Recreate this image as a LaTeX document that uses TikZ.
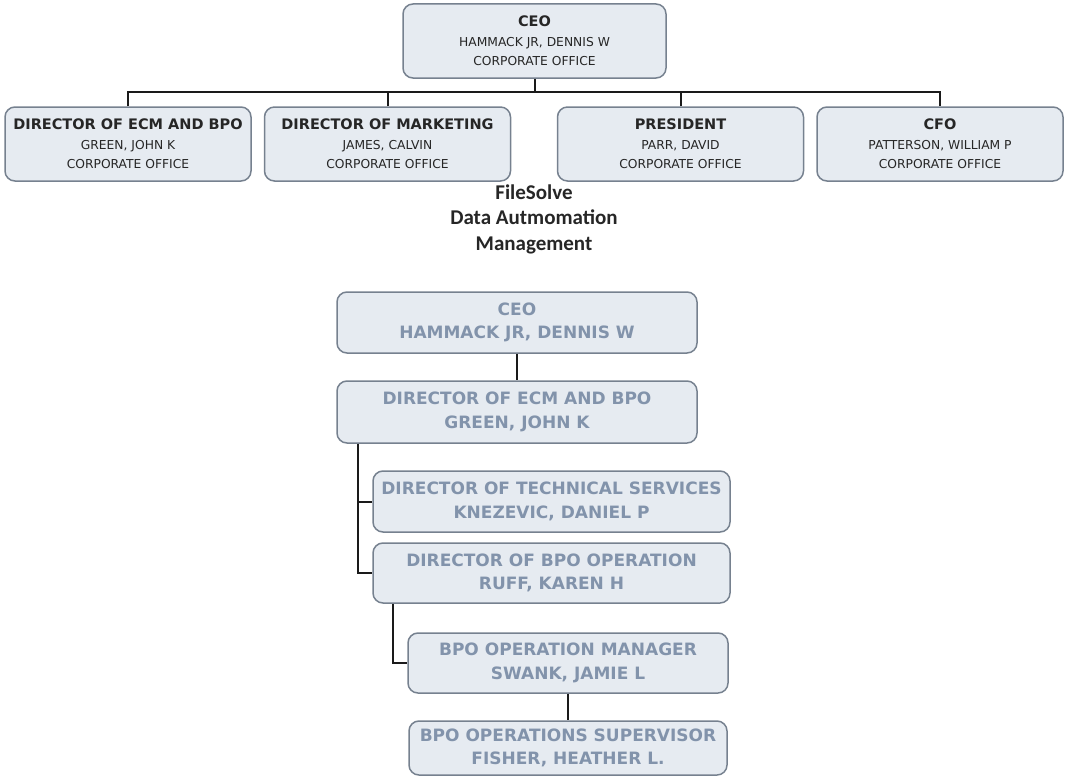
\documentclass[tikz,border=0pt]{standalone}
\usepackage{fontspec}
\setmainfont{DejaVu Sans}
\newfontfamily\headfont{Carlito}
\usetikzlibrary{positioning}
\definecolor{boxfill}{HTML}{E6EBF1}
\definecolor{boxline}{HTML}{76818F}
\definecolor{fadetext}{HTML}{8293AB}
\definecolor{linkgray}{HTML}{1A1A1A}
\newcommand{\roletitle}[1]{{\fontsize{14.5}{19.5}\selectfont\bfseries #1}}
\tikzset{
  topbox/.style={draw=boxline,fill=boxfill,rounded corners=3.5mm,line width=1.5pt,align=center,minimum width=246pt,minimum height=74pt,inner sep=0pt,font=\fontsize{12.3}{19.5}\selectfont,text=black!85},
  lowbox/.style={draw=boxline,fill=boxfill,rounded corners=3.5mm,line width=1.5pt,align=center,minimum height=61pt,inner sep=0pt,font=\fontsize{17}{23.5}\selectfont\bfseries,text=fadetext},
  link/.style={draw=linkgray,line width=2pt}
}

\begin{document}
\begin{tikzpicture}[x=1pt,y=-1pt]
  \useasboundingbox (0,0) rectangle (1081,776);
  % corporate chart
  \node[topbox,minimum width=263pt] (ceo) at (534.5,41) {\roletitle{CEO}\\HAMMACK JR, DENNIS W\\CORPORATE OFFICE};
  \node[topbox] (ecm) at (128,144) {\roletitle{DIRECTOR OF ECM AND BPO}\\GREEN, JOHN K\\CORPORATE OFFICE};
  \node[topbox] (mkt) at (387.5,144) {\roletitle{DIRECTOR OF MARKETING}\\JAMES, CALVIN\\CORPORATE OFFICE};
  \node[topbox] (pres) at (680.5,144) {\roletitle{PRESIDENT}\\PARR, DAVID\\CORPORATE OFFICE};
  \node[topbox] (cfo) at (940,144) {\roletitle{CFO}\\PATTERSON, WILLIAM P\\CORPORATE OFFICE};
  \coordinate (bus) at (0,92);
  \draw[link] (ecm.north) |- (cfo.north |- bus) -- (cfo.north);
  \draw[link] (ceo.south) -- (ceo.south |- bus);
  \draw[link] (mkt.north) -- (mkt.north |- bus);
  \draw[link] (pres.north) -- (pres.north |- bus);
  \node[font=\headfont\bfseries\fontsize{21}{25.5}\selectfont,align=center,text=black!85] (heading) at (534,219) {FileSolve\\Data Autmomation\\Management};
  % department chart
  \node[lowbox,minimum width=360pt] (ceo2) at (517,322.5) {CEO\\HAMMACK JR, DENNIS W};
  \node[lowbox,minimum width=360pt,minimum height=62pt] (ecm2) at (517,412) {DIRECTOR OF ECM AND BPO\\GREEN, JOHN K};
  \node[lowbox,minimum width=357pt] (tech) at (551.5,501.5) {DIRECTOR OF TECHNICAL SERVICES\\KNEZEVIC, DANIEL P};
  \node[lowbox,minimum width=357pt,minimum height=60pt] (bpo) at (551.5,573) {DIRECTOR OF BPO OPERATION\\RUFF, KAREN H};
  \node[lowbox,minimum width=320pt,minimum height=60pt] (mgr) at (568,663) {BPO OPERATION MANAGER\\SWANK, JAMIE L};
  \node[lowbox,minimum width=318pt,minimum height=54pt] (sup) at (568,748) {BPO OPERATIONS SUPERVISOR\\FISHER, HEATHER L.};
  \draw[link] (ceo2.south) -- (ecm2.north);
  \draw[link] ([xshift=22pt]ecm2.south west) coordinate (spine) |- (bpo.west);
  \draw[link] (spine |- tech.west) -- (tech.west);
  \draw[link] ([xshift=21pt]bpo.south west) |- (mgr.west);
  \draw[link] (mgr.south) -- (sup.north);
\end{tikzpicture}
\end{document}
